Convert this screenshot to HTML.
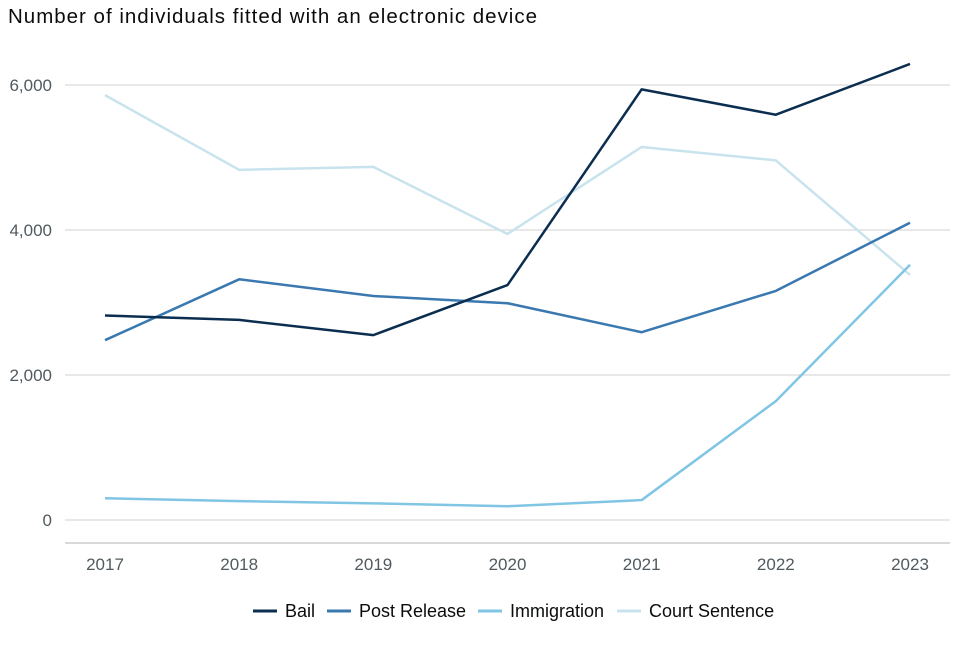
<!DOCTYPE html>
<html><head><meta charset="utf-8"><style>
body{margin:0;background:#fff;font-family:"Liberation Sans",sans-serif}
</style></head><body>
<svg id="chart" width="960" height="640" xmlns="http://www.w3.org/2000/svg">
<text x="8" y="23" font-size="20.5" textLength="529" fill="#0b0c0c">Number of individuals fitted with an electronic device</text>
<g id="grid"></g><g id="lines"></g><g id="legend"></g>
</svg>
<script>
const years=["2017","2018","2019","2020","2021","2022","2023"];
const yTicks=[0,2000,4000,6000];
const bail=[2820,2760,2550,3240,5940,5590,6290];
const postRelease=[2480,3320,3090,2990,2590,3160,4100];
const immigration=[300,260,230,190,275,1640,3520];
const courtSentence=[5860,4830,4870,3945,5145,4960,3380];
const seriesNames=["Bail","Post Release","Immigration","Court Sentence"];
const seriesColors=["#0b2e50","#3a78b0","#80c6e4","#c9e3ee"];
const seriesData=[bail,postRelease,immigration,courtSentence];
const NS="http://www.w3.org/2000/svg";
const x=i=>105+i*(805/(years.length-1));
const y=v=>520-v*(145/2000);
function mk(t,a,p){const e=document.createElementNS(NS,t);for(const k in a)e.setAttribute(k,a[k]);p.appendChild(e);return e;}
const grid=document.getElementById('grid'),lines=document.getElementById('lines'),legend=document.getElementById('legend');
yTicks.forEach(v=>{
 const l=mk('line',{x1:65,x2:950,y1:y(v),y2:y(v),stroke:'#d0d0d0','stroke-width':1},grid);
 
 
 const t=mk('text',{x:52,y:y(v)+6,'text-anchor':'end','font-size':17,fill:'#505a5f'},grid);
 t.textContent=v.toLocaleString('en-GB');
 
 
});
const ax=mk('line',{x1:65,x2:950,y1:543,y2:543,stroke:'#b1b4b6','stroke-width':1},grid);


years.forEach((yr,i)=>{
 const t=mk('text',{x:x(i),y:570,'text-anchor':'middle','font-size':17,fill:'#505a5f'},grid);
 t.textContent=yr;
 
 
});
seriesData.slice().reverse().forEach((d,ri)=>{
 const si=seriesData.length-1-ri;
 const p=mk('polyline',{points:d.map((v,i)=>x(i)+','+y(v)).join(' '),fill:'none',stroke:seriesColors[si],'stroke-width':2.5,'stroke-linejoin':'round'},lines);
 
 
});
const lx=[253,327,478,617];
seriesNames.forEach((n,i)=>{
 const g=mk('g',{},legend);
 
 
 mk('line',{x1:lx[i],x2:lx[i]+24,y1:611,y2:611,stroke:seriesColors[i],'stroke-width':3},g);
 const t=mk('text',{x:lx[i]+32,y:617,'font-size':18,fill:'#0b0c0c'},g);
 t.textContent=n;
});
</script>
</body></html>
